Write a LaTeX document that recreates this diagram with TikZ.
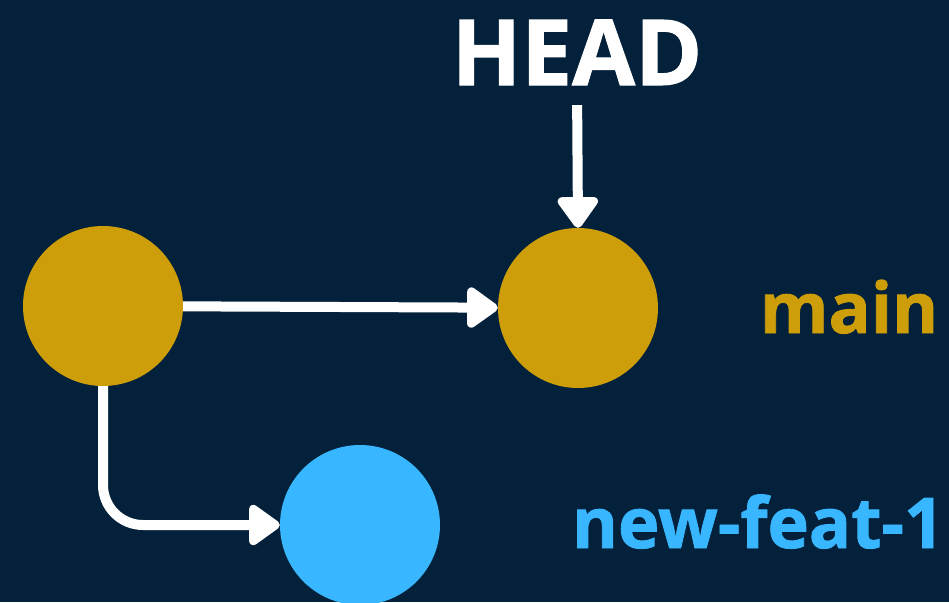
\documentclass[tikz,border=0pt]{standalone}
\usepackage{fontspec}
\setmainfont{Open Sans}[BoldFeatures={FakeBold=1.2}]
\usetikzlibrary{arrows.meta}
\definecolor{bgNavy}{RGB}{3,33,58}
\definecolor{commitGold}{RGB}{205,158,10}
\definecolor{featBlue}{RGB}{56,182,255}
\tikzset{
  commit/.style={circle, minimum size=160pt, inner sep=0pt, fill=commitGold},
  featcommit/.style={commit, fill=featBlue},
  label/.style={inner sep=0pt, font=\bfseries\fontsize{70}{80}\selectfont},
  link/.style={-{Triangle[round, length=34pt, width=46pt]}, line width=10pt, white},
}

\begin{document}
\begin{tikzpicture}[x=1pt, y=-1pt]
  \clip (0,0) rectangle (949,602);
  \fill[bgNavy] (0,0) rectangle (949,602);

  % commits
  \node[commit] (c1) at (103,306) {};
  \node[commit] (c2) at (578,308) {};
  \node[featcommit] (c3) at (360,525) {};

  % branch names and HEAD
  \node[label, white, font=\bfseries\fontsize{91}{100}\selectfont, anchor=base] (head) at (577,85) {HEAD};
  \node[label, commitGold, anchor=base] (main) at (849,333) {main};
  \node[label, featBlue, anchor=base] (feat) at (758,548) {new-feat-1};

  \draw[link] (c1) -- (c2);
  \draw[link, rounded corners=40pt] (c1.south) |- (c3);
  \draw[link, shorten <=20pt] (head.south) -- (c2.north);
\end{tikzpicture}
\end{document}
